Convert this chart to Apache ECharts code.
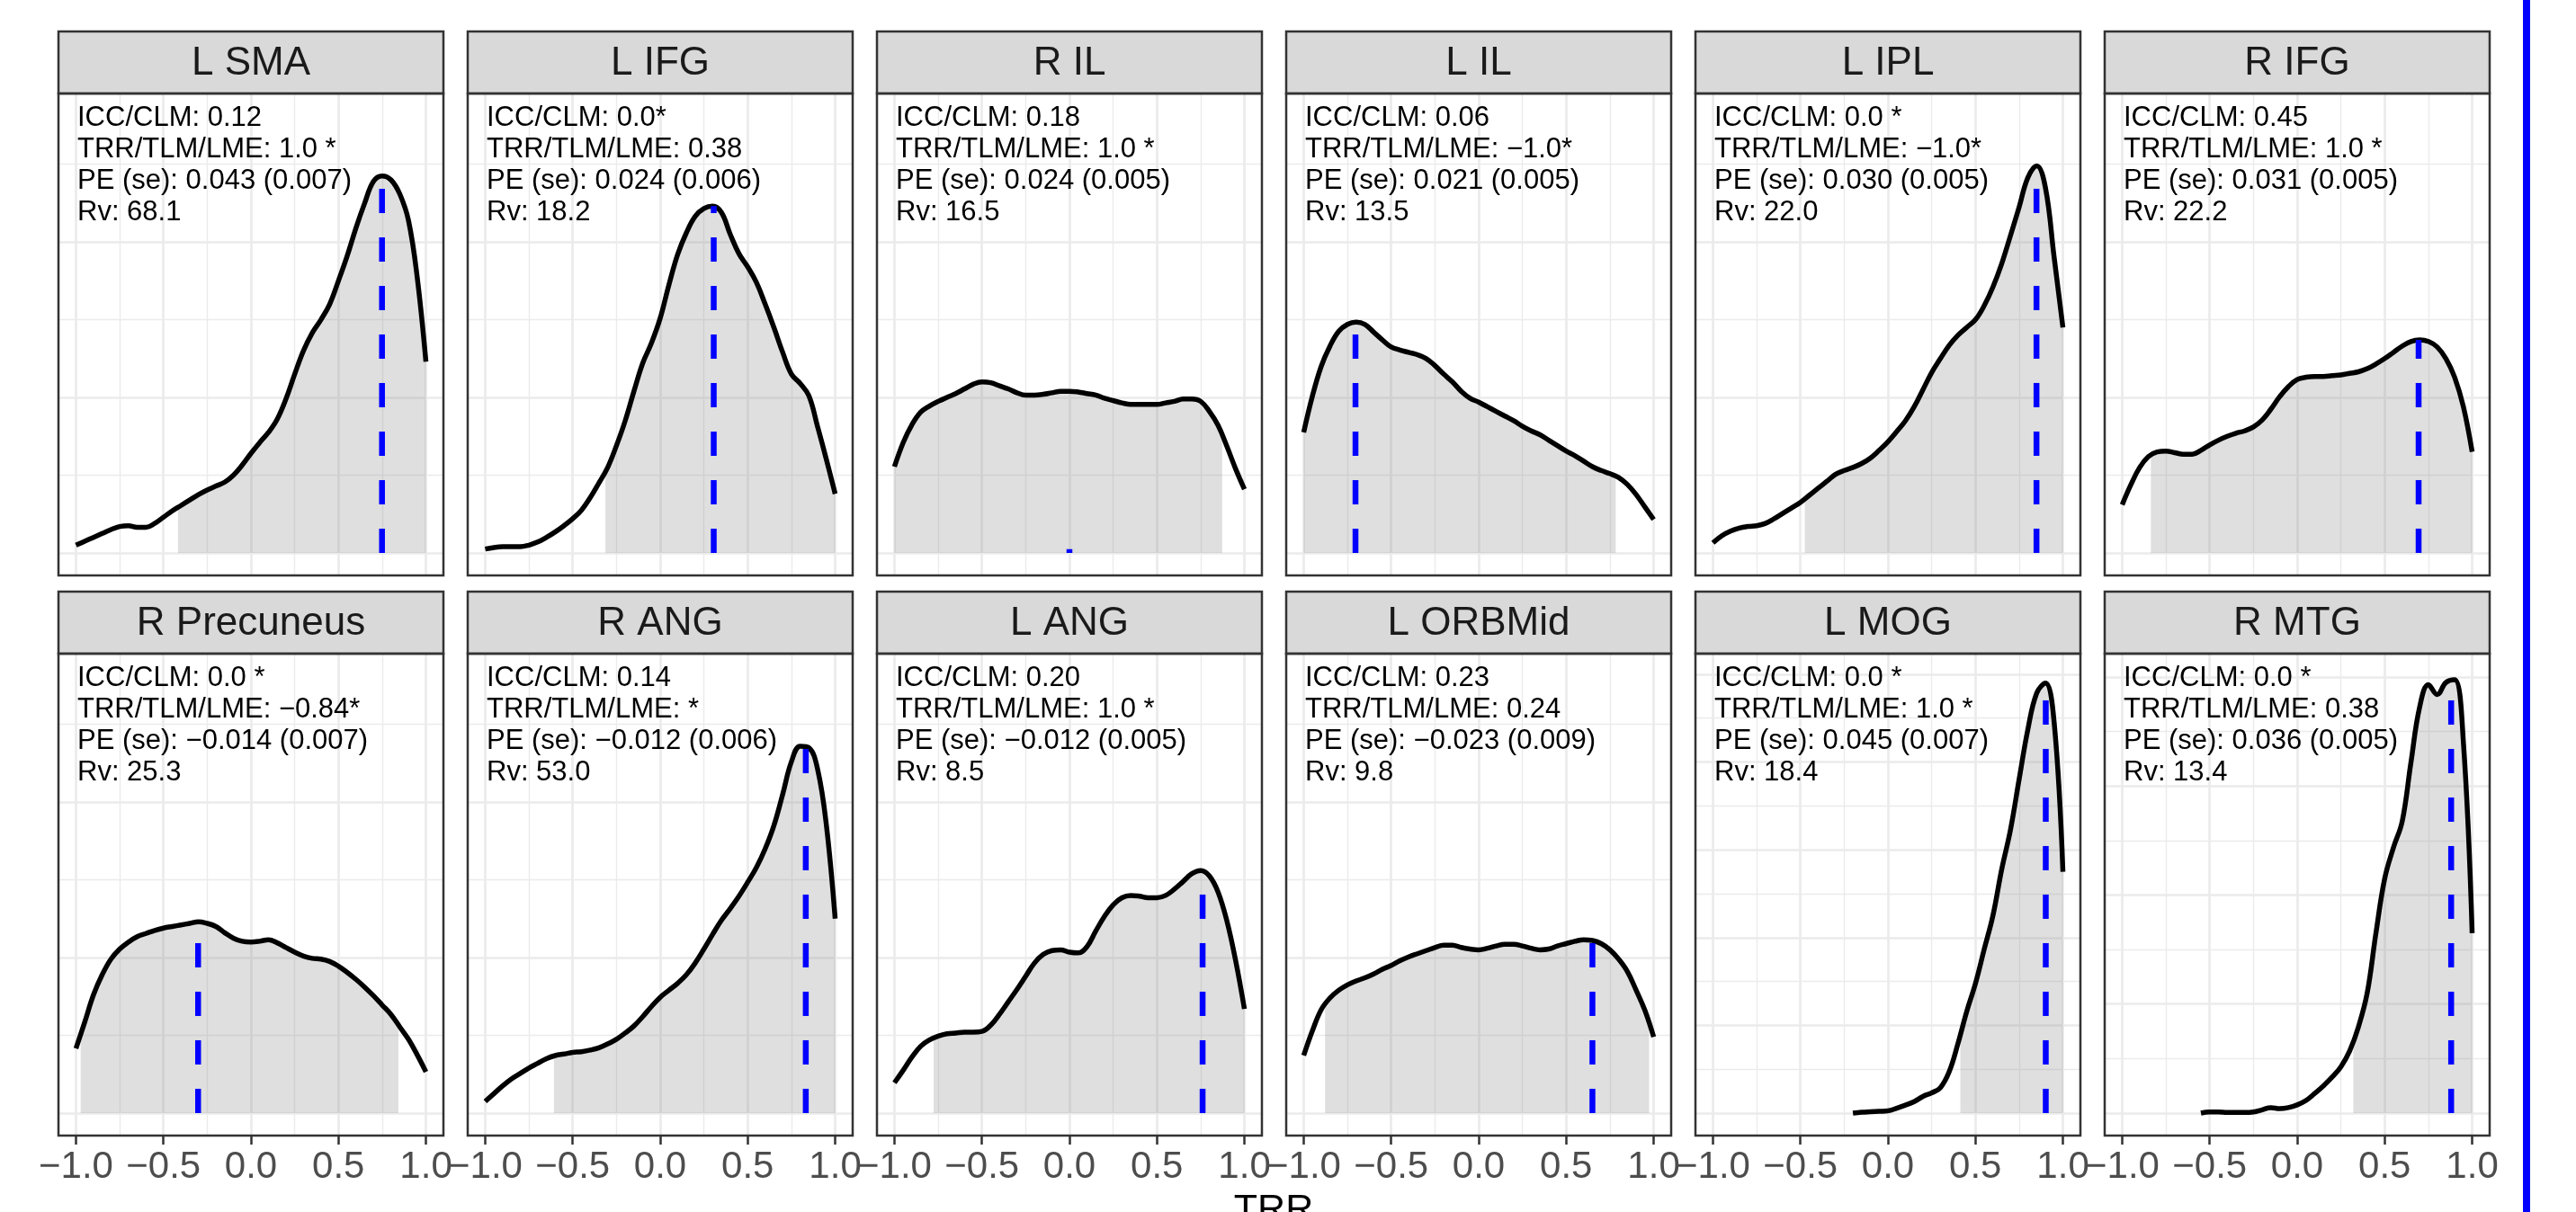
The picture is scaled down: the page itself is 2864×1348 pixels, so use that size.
<!DOCTYPE html>
<html>
<head>
<meta charset="utf-8">
<script src="https://cdn.jsdelivr.net/npm/echarts@6/dist/echarts.min.js"></script>
<style>
html, body { margin: 0; padding: 0; background: #fff; }
#main { width: 2864px; height: 1348px; }
</style>
</head>
<body>
<div id="main"></div>
<script>
// facet names and the four annotation lines
var regions = ['L SMA', 'L IFG', 'R IL', 'L IL', 'L IPL', 'R IFG',
    'R Precuneus', 'R ANG', 'L ANG', 'L ORBMid', 'L MOG', 'R MTG'];
var iccClm = ['0.12', '0.0*', '0.18', '0.06', '0.0 *', '0.45', '0.0 *', '0.14', '0.20', '0.23', '0.0 *', '0.0 *'];
var trrTlmLme = ['1.0 *', '0.38', '1.0 *', '−1.0*', '−1.0*', '1.0 *', '−0.84*', '*', '1.0 *', '0.24', '1.0 *', '0.38'];
var peSe = ['0.043 (0.007)', '0.024 (0.006)', '0.024 (0.005)', '0.021 (0.005)', '0.030 (0.005)', '0.031 (0.005)',
    '−0.014 (0.007)', '−0.012 (0.006)', '−0.012 (0.005)', '−0.023 (0.009)', '0.045 (0.007)', '0.036 (0.005)'];
var rv = ['68.1', '18.2', '16.5', '13.5', '22.0', '22.2', '25.3', '53.0', '8.5', '9.8', '18.4', '13.4'];

// x ticks
var xTicks = [-1, -0.5, 0, 0.5, 1];
var xMinor = [-0.75, -0.25, 0.25, 0.75];

// TRR sample positions for the density curves
var trr = [-1.0, -0.95, -0.9, -0.85, -0.8, -0.75, -0.7, -0.65, -0.6, -0.55,
    -0.5, -0.45, -0.4, -0.35, -0.3, -0.25, -0.2, -0.15, -0.1, -0.05,
    0.0, 0.05, 0.1, 0.15, 0.2, 0.25, 0.3, 0.35, 0.4, 0.45,
    0.5, 0.55, 0.6, 0.65, 0.7, 0.75, 0.8, 0.85, 0.9, 0.95, 1.0];

// density values (in units of that panel's grid step)
var densLSMA = [0.10, 0.15, 0.20, 0.25, 0.30, 0.34, 0.35, 0.33, 0.33, 0.38,
    0.46, 0.54, 0.61, 0.68, 0.75, 0.81, 0.86, 0.91, 1.00, 1.13,
    1.28, 1.42, 1.55, 1.72, 1.98, 2.30, 2.60, 2.83, 3.00, 3.20,
    3.50, 3.82, 4.18, 4.50, 4.78, 4.85, 4.80, 4.62, 4.28, 3.55, 2.46];
var densLIFG = [0.05, 0.07, 0.08, 0.08, 0.08, 0.10, 0.14, 0.20, 0.27, 0.35,
    0.44, 0.55, 0.71, 0.90, 1.10, 1.38, 1.70, 2.08, 2.44, 2.70,
    3.02, 3.45, 3.84, 4.12, 4.33, 4.43, 4.46, 4.38, 4.10, 3.85,
    3.68, 3.48, 3.20, 2.90, 2.58, 2.30, 2.18, 2.02, 1.62, 1.20, 0.76];
var densRIL = [1.11, 1.42, 1.65, 1.81, 1.89, 1.95, 2.00, 2.05, 2.11, 2.17,
    2.20, 2.19, 2.15, 2.11, 2.06, 2.03, 2.03, 2.04, 2.06, 2.08,
    2.08, 2.07, 2.05, 2.03, 1.99, 1.96, 1.93, 1.91, 1.91, 1.91,
    1.91, 1.93, 1.95, 1.98, 1.98, 1.95, 1.82, 1.64, 1.37, 1.08, 0.82];
var densLIL = [1.55, 2.02, 2.40, 2.66, 2.85, 2.94, 2.97, 2.94, 2.84, 2.74,
    2.65, 2.61, 2.58, 2.55, 2.50, 2.41, 2.30, 2.20, 2.08, 1.99,
    1.94, 1.88, 1.82, 1.76, 1.70, 1.63, 1.57, 1.52, 1.45, 1.38,
    1.31, 1.25, 1.18, 1.11, 1.06, 1.02, 0.97, 0.88, 0.75, 0.59, 0.43];
var densLIPL = [0.13, 0.22, 0.28, 0.32, 0.34, 0.35, 0.38, 0.44, 0.51, 0.58,
    0.65, 0.74, 0.83, 0.92, 1.01, 1.06, 1.10, 1.15, 1.22, 1.32,
    1.43, 1.56, 1.70, 1.88, 2.10, 2.32, 2.50, 2.67, 2.80, 2.90,
    3.00, 3.18, 3.42, 3.72, 4.08, 4.45, 4.83, 4.98, 4.70, 3.80, 2.90];
var densRIFG = [0.62, 0.88, 1.10, 1.24, 1.30, 1.31, 1.29, 1.27, 1.27, 1.32,
    1.39, 1.45, 1.50, 1.54, 1.57, 1.62, 1.71, 1.85, 2.01, 2.14,
    2.23, 2.26, 2.27, 2.27, 2.28, 2.29, 2.31, 2.33, 2.37, 2.43,
    2.50, 2.58, 2.66, 2.72, 2.74, 2.72, 2.65, 2.50, 2.26, 1.88, 1.30];
var densRPrecuneus = [0.83, 1.17, 1.52, 1.78, 1.98, 2.11, 2.20, 2.27, 2.31, 2.35,
    2.38, 2.40, 2.42, 2.44, 2.46, 2.44, 2.40, 2.32, 2.25, 2.21,
    2.20, 2.21, 2.23, 2.19, 2.13, 2.07, 2.02, 1.99, 1.98, 1.95,
    1.89, 1.81, 1.72, 1.62, 1.51, 1.39, 1.27, 1.11, 0.95, 0.75, 0.53];
var densRANG = [0.15, 0.25, 0.35, 0.44, 0.51, 0.58, 0.64, 0.70, 0.74, 0.76,
    0.78, 0.79, 0.81, 0.84, 0.89, 0.95, 1.03, 1.12, 1.24, 1.37,
    1.49, 1.58, 1.67, 1.78, 1.93, 2.11, 2.30, 2.48, 2.63, 2.79,
    2.97, 3.16, 3.40, 3.70, 4.10, 4.52, 4.72, 4.70, 4.42, 3.70, 2.50];
var densLANG = [0.39, 0.55, 0.72, 0.86, 0.94, 0.99, 1.02, 1.03, 1.04, 1.04,
    1.05, 1.13, 1.27, 1.43, 1.59, 1.76, 1.93, 2.04, 2.09, 2.10,
    2.07, 2.06, 2.14, 2.34, 2.53, 2.68, 2.77, 2.80, 2.79, 2.77,
    2.77, 2.80, 2.88, 2.98, 3.08, 3.12, 3.05, 2.84, 2.47, 1.96, 1.34];
var densLORBMid = [0.74, 1.06, 1.33, 1.48, 1.58, 1.65, 1.70, 1.74, 1.79, 1.85,
    1.90, 1.96, 2.01, 2.05, 2.09, 2.13, 2.16, 2.16, 2.13, 2.11,
    2.10, 2.12, 2.15, 2.17, 2.17, 2.15, 2.12, 2.10, 2.11, 2.15,
    2.18, 2.21, 2.23, 2.22, 2.18, 2.10, 1.98, 1.82, 1.58, 1.32, 0.98];
var densLMOG = [null, null, null, null, null, null, null, null, null, null,
    null, null, null, null, null, null, 0.00, 0.02, 0.03, 0.04,
    0.05, 0.11, 0.18, 0.26, 0.38, 0.46, 0.58, 0.94, 1.58, 2.31,
    2.95, 3.73, 4.50, 5.55, 6.45, 7.61, 8.75, 9.57, 9.80, 8.90, 5.50];
var densRMTG = [null, null, null, null, null, null, null, null, null, 0.00,
    0.02, 0.02, 0.01, 0.01, 0.01, 0.02, 0.06, 0.10, 0.08, 0.10,
    0.15, 0.23, 0.36, 0.50, 0.66, 0.85, 1.14, 1.58, 2.20, 3.30,
    4.30, 4.87, 5.35, 6.43, 7.45, 7.86, 7.68, 7.90, 7.95, 6.80, 3.30];
var densities = [densLSMA, densLIFG, densRIL, densLIL, densLIPL, densRIFG,
    densRPrecuneus, densRANG, densLANG, densLORBMid, densLMOG, densRMTG];

// shaded interval, with the curve height at its two ends
var fillLo = [-0.417, -0.313, -1.0, -1.0, -0.475, -0.836, -0.973, -0.607, -0.776, -0.878, 0.414, 0.321];
var fillLoY = [0.57, 1.03, 1.11, 1.55, 0.68, 1.25, 1.00, 0.73, 0.97, 1.43, 1.77, 1.28];
var fillHi = [1.0, 1.0, 0.873, 0.783, 1.0, 1.0, 0.843, 1.0, 1.0, 0.974, 1.0, 1.0];
var fillHiY = [2.46, 0.76, 1.50, 0.99, 2.90, 1.30, 1.13, 2.50, 1.34, 1.16, 5.50, 3.30];

// dashed blue line (mode) position and height
var modeX = [0.749, 0.306, 0.0, -0.704, 0.849, 0.694, -0.302, 0.832, 0.761, 0.65, 0.902, 0.88];
var modeY = [4.80, 4.46, 0.05, 2.97, 4.95, 2.74, 2.46, 4.74, 3.12, 2.22, 9.80, 8.00];

// top of each panel's y range (free y scales)
var yTop = [5.91, 5.91, 5.91, 5.91, 5.91, 5.91, 5.91, 5.91, 5.91, 5.91, 10.47, 8.43];

var myChart = echarts.init(document.getElementById('main'));
var FONT = '"Liberation Sans", Arial, Helvetica, sans-serif';
var grids = [], xAxes = [], yAxes = [], series = [], elements = [];

function fmt(v) {
    return (v < 0 ? '−' : '') + Math.abs(v).toFixed(1);
}

regions.forEach(function (name, i) {
    var row = Math.floor(i / 6), col = i % 6;
    var left = 65 + col * 455, top = 104 + row * 623;
    var w = 428, h = 536, stripH = 69;
    var bottomRow = row === 1;

    grids.push({ left: left, top: top, width: w, height: h, containLabel: false });

    var yMin = -yTop[i] * 0.049;
    var yMajor = [], yMinorVals = [];
    for (var v = 0; v <= yTop[i]; v++) {
        (v % 2 === 0 ? yMajor : yMinorVals).push(v);
    }

    xAxes.push({
        gridIndex: i, type: 'value', position: 'bottom', min: -1.1, max: 1.1,
        axisLine: { show: false, onZero: false },
        axisTick: { show: bottomRow, customValues: xTicks, length: 10, lineStyle: { color: '#333333', width: 2.5 } },
        axisLabel: { show: bottomRow, customValues: xTicks, formatter: fmt, margin: 14,
            fontSize: 42, fontFamily: FONT, color: '#4D4D4D' },
        splitLine: { show: true, lineStyle: { color: '#EBEBEB', width: 2.7 } }
    });
    xAxes.push({
        gridIndex: i, type: 'value', position: 'top', min: -1.1, max: 1.1,
        axisLine: { show: false, onZero: false },
        axisTick: { show: false, customValues: xMinor },
        axisLabel: { show: false },
        splitLine: { show: true, lineStyle: { color: '#EBEBEB', width: 1.4 } }
    });
    yAxes.push({
        gridIndex: i, type: 'value', position: 'left', min: yMin, max: yTop[i],
        axisLine: { show: false, onZero: false },
        axisTick: { show: false, customValues: yMajor },
        axisLabel: { show: false },
        splitLine: { show: true, lineStyle: { color: '#EBEBEB', width: 2.7 } }
    });
    yAxes.push({
        gridIndex: i, type: 'value', position: 'right', min: yMin, max: yTop[i],
        axisLine: { show: false, onZero: false },
        axisTick: { show: false, customValues: yMinorVals },
        axisLabel: { show: false },
        splitLine: { show: true, lineStyle: { color: '#EBEBEB', width: 1.4 } }
    });

    var dens = densities[i];
    var curve = trr.map(function (x, k) { return [x, dens[k]]; });
    var fill = [[fillLo[i], fillLoY[i]]];
    trr.forEach(function (x, k) {
        if (x > fillLo[i] && x < fillHi[i] && dens[k] != null) fill.push([x, dens[k]]);
    });
    fill.push([fillHi[i], fillHiY[i]]);

    series.push({
        type: 'line', xAxisIndex: 2 * i, yAxisIndex: 2 * i, data: fill,
        smooth: 0.4, showSymbol: false, silent: true, z: 2,
        lineStyle: { width: 0 },
        areaStyle: { color: 'rgba(128,128,128,0.25)', opacity: 1 }
    });
    series.push({
        type: 'line', xAxisIndex: 2 * i, yAxisIndex: 2 * i, data: curve,
        smooth: 0.4, showSymbol: false, silent: true, z: 3,
        lineStyle: { color: '#000000', width: 5.5 }
    });
    series.push({
        type: 'line', xAxisIndex: 2 * i, yAxisIndex: 2 * i,
        data: [[modeX[i], 0], [modeX[i], modeY[i]]],
        showSymbol: false, silent: true, z: 4,
        lineStyle: { color: '#0000FF', width: 6.5, type: [27, 27], cap: 'butt' }
    });

    // strip
    elements.push({
        type: 'rect', z: 10, silent: true,
        shape: { x: left, y: top - stripH, width: w, height: stripH },
        style: { fill: '#D9D9D9', stroke: '#333333', lineWidth: 2.5 }
    });
    elements.push({
        type: 'text', z: 11, silent: true,
        style: { text: name, x: left + w / 2, y: top - stripH / 2 + 1,
            textAlign: 'center', textVerticalAlign: 'middle',
            fontSize: 44, fontFamily: FONT, fill: '#1A1A1A' }
    });
    // panel border
    elements.push({
        type: 'rect', z: 10, silent: true,
        shape: { x: left, y: top, width: w, height: h },
        style: { fill: 'none', stroke: '#333333', lineWidth: 2.5 }
    });
    // annotation
    elements.push({
        type: 'text', z: 11, silent: true,
        style: {
            text: 'ICC/CLM: ' + iccClm[i] + '\nTRR/TLM/LME: ' + trrTlmLme[i] +
                '\nPE (se): ' + peSe[i] + '\nRv: ' + rv[i],
            x: left + 21, y: top + 9.5, textAlign: 'left', textVerticalAlign: 'top',
            fontSize: 31, lineHeight: 35, fontFamily: FONT, fill: '#000000'
        }
    });
});

// x axis title
elements.push({
    type: 'text', z: 11, silent: true,
    style: { text: 'TRR', x: 1416, y: 1325, textAlign: 'center', textVerticalAlign: 'top',
        fontSize: 43, fontFamily: FONT, fill: '#000000' }
});
// blue bar at the right edge
elements.push({
    type: 'rect', z: 11, silent: true,
    shape: { x: 2805, y: 0, width: 8, height: 1348 },
    style: { fill: '#0000FF' }
});

var option = {
    animation: false,
    backgroundColor: '#FFFFFF',
    grid: grids,
    xAxis: xAxes,
    yAxis: yAxes,
    series: series,
    graphic: { elements: elements }
};
myChart.setOption(option);
</script>
</body>
</html>
